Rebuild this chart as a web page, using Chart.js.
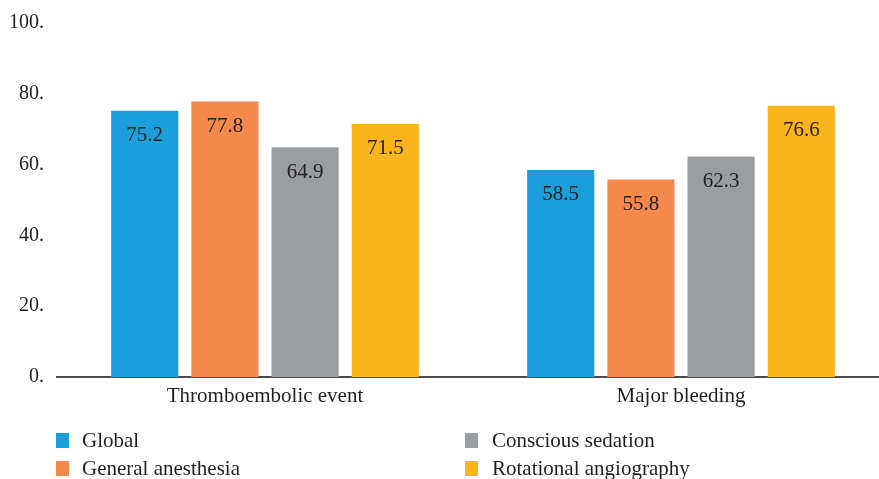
<!DOCTYPE html>
<html><head><meta charset="utf-8">
<script src="https://cdn.jsdelivr.net/npm/chart.js@4"></script>
<style>
html,body{margin:0;padding:0;background:#fff;overflow:hidden;width:879px;height:479px}
#wrap{position:absolute;left:0;top:-2px;width:900px;height:481px}
.leg{position:absolute;font-family:"Liberation Serif","DejaVu Serif",serif;font-size:21px;color:#231f20;line-height:22px}
.leg i{position:absolute;left:0;top:1px;width:13px;height:15px}
.leg span{position:absolute;left:26px;top:-3px;white-space:nowrap}
</style></head>
<body>
<div id="wrap"><canvas id="c" width="900" height="481"></canvas></div>
<div class="leg" style="left:56px;top:432px"><i style="background:#1a9fdb"></i><span>Global</span></div>
<div class="leg" style="left:56px;top:460px"><i style="background:#f5894b"></i><span>General anesthesia</span></div>
<div class="leg" style="left:465px;top:432px"><i style="background:#9b9ea1"></i><span style="left:27px">Conscious sedation</span></div>
<div class="leg" style="left:465px;top:460px"><i style="background:#fbb51c"></i><span style="left:27px">Rotational angiography</span></div>
<script>
const categories = ["Thromboembolic event", "Major bleeding"];
const seriesNames = ["Global", "General anesthesia", "Conscious sedation", "Rotational angiography"];
const globalVals = [75.2, 58.5];
const generalAnesthesia = [77.8, 55.8];
const consciousSedation = [64.9, 62.3];
const rotationalAngiography = [71.5, 76.6];
const colors = ["#1a9fdb", "#f5894b", "#9b9ea1", "#fbb51c"];
const yTicks = [0, 20, 40, 60, 80, 100];

const FONT = "'Liberation Serif','DejaVu Serif',serif";
const valueLabels = {
  id: "valueLabels",
  afterDatasetsDraw(chart) {
    const ctx = chart.ctx;
    ctx.save();
    ctx.font = "21px " + FONT;
    ctx.fillStyle = "#231f20";
    ctx.textAlign = "center";
    ctx.textBaseline = "middle";
    chart.data.datasets.forEach((ds, i) => {
      chart.getDatasetMeta(i).data.forEach((bar, j) => {
        ctx.fillText(ds.data[j].toFixed(1), bar.x, bar.y + 25);
      });
    });
    ctx.restore();
  }
};

new Chart(document.getElementById("c"), {
  type: "bar",
  data: {
    labels: categories,
    datasets: [globalVals, generalAnesthesia, consciousSedation, rotationalAngiography].map((d, i) => ({
      label: seriesNames[i], data: d, backgroundColor: colors[i],
      barPercentage: 0.8375, categoryPercentage: 0.771
    }))
  },
  options: {
    responsive: false, animation: false,
    layout: { padding: { top: 18, right: 11, left: 0, bottom: 0 } },
    plugins: { legend: { display: false }, tooltip: { enabled: false } },
    scales: {
      y: {
        min: 0, max: 100,
        afterBuildTicks(s) { s.ticks = yTicks.map(v => ({ value: v })); },
        afterFit(s) { s.width = 57; },
        grid: { display: false, drawTicks: false },
        border: { display: false },
        ticks: { color: "#231f20", font: { family: FONT, size: 20 }, padding: 13,
          callback: v => v + "." }
      },
      x: {
        afterFit(s) { s.height = 102; },
        grid: { display: false, drawTicks: false },
        border: { display: true, color: "#4a4a4a", width: 2 },
        ticks: { color: "#231f20", font: { family: FONT, size: 21 }, padding: 7 }
      }
    }
  },
  plugins: [valueLabels]
});
</script>
</body></html>
